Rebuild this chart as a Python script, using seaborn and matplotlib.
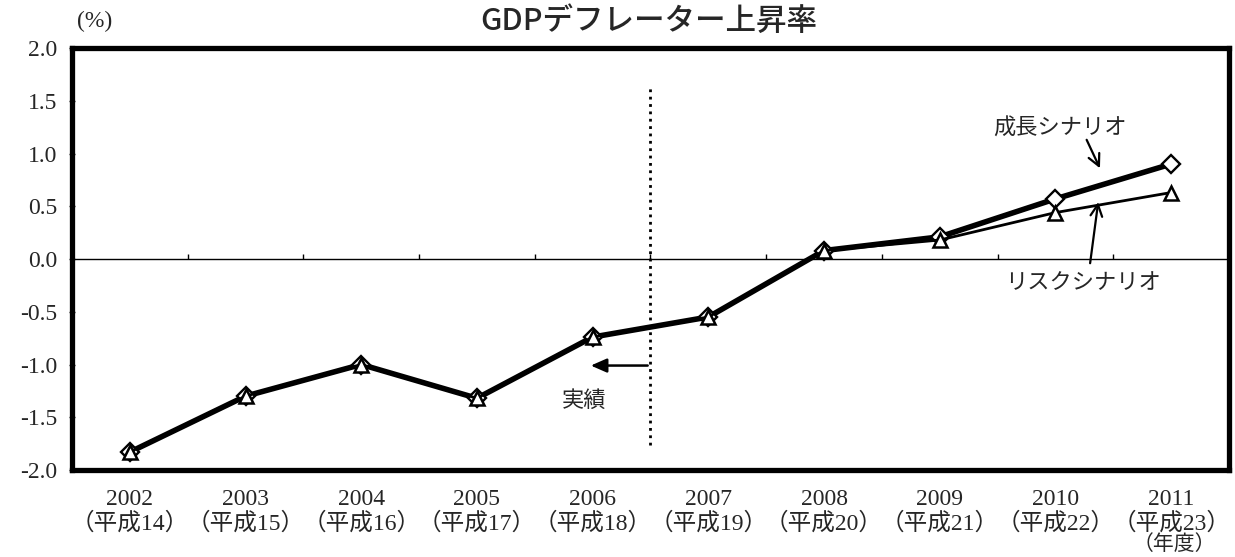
import matplotlib
matplotlib.use("Agg")
import matplotlib.pyplot as plt
import seaborn as sns
import pandas as pd
import numpy as np
from matplotlib.ticker import FormatStrFormatter

# data
years = ["2002", "2003", "2004", "2005", "2006", "2007", "2008", "2009", "2010", "2011"]
heisei = ["平成14", "平成15", "平成16", "平成17", "平成18",
          "平成19", "平成20", "平成21", "平成22", "平成23"]
growth = [-1.83, -1.30, -1.00, -1.32, -0.74, -0.55, 0.08, 0.21, 0.57, 0.90]
risk = [-1.83, -1.30, -1.00, -1.32, -0.74, -0.55, 0.08, 0.18, 0.44, 0.63]

sns.set_theme(style="white")
plt.rcParams["font.family"] = ["Liberation Serif", "Noto Sans CJK JP"]
plt.rcParams["axes.unicode_minus"] = False
jp = ["Noto Sans CJK JP", "DejaVu Sans"]

df = pd.DataFrame({"pos": np.arange(len(years)), "growth": growth, "risk": risk})

fig = plt.figure(figsize=(12.35, 5.57), dpi=100)
ax = fig.add_axes([0.0583, 0.1562, 0.9368, 0.7576])

# growth scenario: thick line, open diamonds
sns.lineplot(data=df, x="pos", y="growth", ax=ax, color="black", linewidth=4.0,
             marker="D", markersize=8.8, markerfacecolor="white",
             markeredgecolor="black", markeredgewidth=1.7, zorder=3)
# risk scenario: thinner line, open triangles
sns.lineplot(data=df, x="pos", y="risk", ax=ax, color="black", linewidth=2.0,
             marker="^", markersize=10, markerfacecolor="white",
             markeredgecolor="black", markeredgewidth=1.8, zorder=4)

ax.set_xlim(-0.5, len(years) - 0.5)
ax.set_ylim(-2.0, 2.0)
ax.set_yticks(np.arange(-2.0, 2.01, 0.5))
ax.yaxis.set_major_formatter(FormatStrFormatter("%.1f"))
ax.set_xticks(df["pos"])
ax.set_xticklabels([f"{y}\n（{h}）" for y, h in zip(years, heisei)],
                   fontsize=17, linespacing=1.1)
ax.tick_params(axis="y", labelsize=17, direction="inout", length=5,
               width=1, left=True, pad=8)
ax.tick_params(axis="x", bottom=False, pad=8)
ax.set_xlabel("")
ax.set_ylabel("")

for s in ax.spines.values():
    s.set_linewidth(3.8)
    s.set_color("black")

# zero line with small category ticks
ax.axhline(0, color="black", linewidth=1.0, zorder=1)
ax.vlines(np.arange(0.5, len(years) - 1), 0, 0.05, color="black", linewidth=1.0)

# boundary between actuals and scenarios
ax.vlines(4.5, -1.76, 1.65, color="black", linewidth=2.0, linestyles=":", zorder=2)
ax.annotate("", xy=(3.96, -1.01), xytext=(4.5, -1.01),
            arrowprops=dict(arrowstyle="-|>,head_length=0.8,head_width=0.35",
                            color="black", lw=1.8))
ax.text(3.93, -1.34, "実績", family=jp, fontsize=16, ha="center", va="center")

ax.text(8.04, 1.24, "成長シナリオ", family=jp, fontsize=16, ha="center", va="center")
ax.annotate("", xy=(8.385, 0.86), xytext=(8.27, 1.13),
            arrowprops=dict(arrowstyle="->,head_length=0.7,head_width=0.35",
                            color="black", lw=1.6, shrinkA=0, shrinkB=0))
ax.text(8.24, -0.22, "リスクシナリオ", family=jp, fontsize=16, ha="center", va="center")
ax.annotate("", xy=(8.37, 0.54), xytext=(8.30, -0.04),
            arrowprops=dict(arrowstyle="->,head_length=0.7,head_width=0.35",
                            color="black", lw=1.6, shrinkA=0, shrinkB=0))

fig.text(0.525, 0.962, "GDPデフレーター上昇率", family=jp, fontsize=22,
         fontweight="medium", ha="center", va="center")
fig.text(0.077, 0.962, "(%)", fontsize=17, ha="center", va="center")
fig.text(0.951, 0.024, "（年度）", family=jp, fontsize=15, ha="center", va="center")

fig.savefig("out.png", dpi=100)
